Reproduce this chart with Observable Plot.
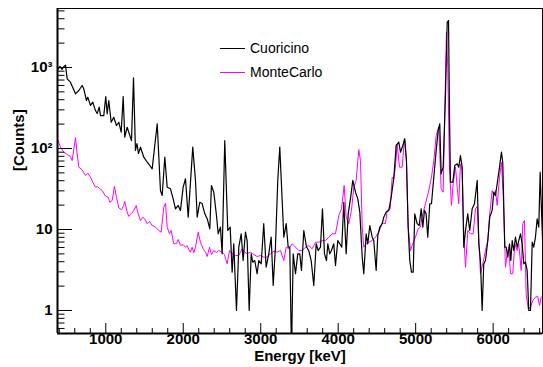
<!DOCTYPE html>
<html><head><meta charset="utf-8">
<script src="https://cdn.jsdelivr.net/npm/d3@7"></script>
<script src="https://cdn.jsdelivr.net/npm/@observablehq/plot@0.6"></script>
<style>
html,body{margin:0;padding:0;background:#fff;}
#wrap{position:relative;width:543px;height:367px;font-family:"Liberation Sans",Arial,Helvetica,sans-serif;}
#legend{position:absolute;left:220px;top:0;font-size:14px;color:#000;}
.row{position:absolute;left:0;white-space:nowrap;display:flex;align-items:center;height:16px;}
.sw{display:inline-block;width:25px;height:0;border-top:1.3px solid;margin-right:5px;}
</style></head><body><div id="wrap"><div id="legend"></div></div>
<script>
// Cuoricino spectrum (energy keV, counts)
const cuoE=[383,409,435,461,480,502,544,609,652,695,716,751,768,803,832,867,889,915,932,974,1000,1018,1039,1070,1103,1138,1168,1199,1225,1245,1276,1310,1332,1358,1383,1403,1422,1448,1491,1535,1568,1599,1664,1706,1728,1762,1793,1835,1870,1900,1935,1964,1999,2029,2064,2123,2158,2180,2213,2244,2278,2309,2343,2364,2394,2429,2451,2480,2502,2536,2575,2606,2631,2652,2687,2717,2748,2773,2803,2825,2851,2877,2897,2923,2954,2975,3006,3039,3070,3104,3135,3161,3190,3220,3246,3277,3298,3329,3354,3375,3397,3419,3449,3478,3504,3526,3556,3591,3620,3651,3685,3716,3742,3771,3797,3823,3849,3866,3891,3913,3943,3965,3995,4020,4046,4072,4103,4129,4158,4188,4223,4253,4279,4310,4330,4361,4382,4408,4439,4459,4490,4511,4537,4568,4588,4619,4653,4684,4717,4748,4782,4804,4834,4859,4881,4903,4924,4946,4968,4988,5019,5045,5071,5092,5114,5135,5156,5182,5204,5234,5265,5290,5311,5329,5355,5385,5407,5424,5436,5449,5479,5505,5536,5556,5578,5600,5621,5643,5672,5698,5729,5759,5794,5815,5836,5858,5879,5901,5931,5956,5987,6008,6030,6052,6082,6107,6124,6150,6168,6189,6211,6228,6246,6266,6288,6310,6331,6353,6375,6395,6417,6439,6460,6482,6504,6524,6546,6568,6589,6607,6624,6641];
const cuoC=[945,1030,945,1030,1070,725,659,473,520,600,546,391,430,340,373,294,270,324,255,255,438,268,391,211,243,192,211,159,438,138,183,145,125,746,94.5,115,86.8,104,78.1,67.7,61.7,56.1,202,30.3,26.3,78.1,33.3,31.8,23.9,18.0,19.8,17.2,33.3,42.3,14.2,104,40.3,14.2,21.7,20.9,15.6,13.6,10.2,34.9,28.9,14.9,8.85,10.7,5.01,125,9.72,10.7,2.97,6.66,1.0,6.05,8.85,4.14,9.26,7.31,1.0,5.01,3.95,4.14,2.84,4.14,3.77,11.8,3.42,5.01,8.04,2.04,6.05,40.3,104,22.8,8.04,11.8,6.05,6.05,0.3,5.01,2.84,5.01,5.01,3.12,9.72,6.05,5.50,4.14,2.04,6.66,5.50,6.05,18.0,5.01,4.14,6.66,5.01,5.50,6.66,3.59,7.31,6.66,6.05,21.7,5.01,15.6,23.9,40.3,28.9,23.9,16.4,4.55,2.84,8.85,6.66,11.2,8.04,7.31,3.12,8.43,10.7,11.8,14.2,16.4,17.2,25.0,42.3,109,120,90,109,132,71,10.7,4.14,2.97,2.97,15.6,11.8,11.2,18.0,10.7,17.2,15.6,8.04,20.8,20.8,44.2,94.5,167,202,48.7,58.8,473,3625,3802,294,38.4,38.4,61.7,64.7,58.8,82,58.8,6.05,9.72,15.6,9.72,18.0,20.8,40.3,6.66,4.14,1.0,3.77,4.14,7.31,14.2,17.2,28.9,26.3,36.7,58.8,90,67.7,6.05,6.05,4.55,6.66,4.14,7.31,5.50,8.04,6.05,7.31,8.85,6.66,3.77,3.95,3.12,1.0,1.0,6.97,6.05,8.04,13.5,10.7,51,17.2,6.05];
// MonteCarlo simulation (energy keV, counts)
const mcE=[386,415,458,502,544,566,609,631,652,695,738,768,803,832,867,893,923,954,996,1031,1052,1083,1112,1138,1168,1203,1232,1245,1276,1297,1332,1362,1393,1418,1448,1478,1503,1535,1564,1599,1642,1684,1715,1749,1771,1793,1822,1844,1878,1909,1935,1964,1999,2029,2051,2071,2093,2115,2136,2158,2193,2222,2257,2287,2309,2339,2364,2394,2429,2459,2502,2532,2567,2597,2631,2674,2717,2761,2794,2825,2867,2910,2954,2997,3039,3083,3126,3169,3212,3255,3298,3329,3362,3406,3449,3492,3535,3578,3620,3664,3707,3750,3794,3837,3879,3922,3965,4008,4043,4077,4103,4137,4171,4201,4232,4266,4288,4310,4330,4361,4395,4439,4481,4524,4568,4610,4632,4671,4697,4717,4739,4761,4791,4826,4855,4881,4903,4933,4962,4997,5032,5061,5083,5126,5169,5204,5234,5265,5298,5329,5355,5376,5397,5414,5436,5462,5484,5514,5536,5556,5578,5600,5621,5643,5673,5707,5742,5772,5794,5815,5836,5866,5901,5931,5956,5987,6008,6030,6052,6082,6107,6129,6159,6181,6202,6224,6253,6280,6310,6331,6362,6383,6404,6426,6452,6482,6512,6546,6576,6598,6620,6641];
const mcC=[125,104,90,84.3,79.7,71,136,86,58.8,54.6,46.4,49.6,44.2,38.4,33.3,34,31.8,30.3,25.8,25,21.7,22.8,34,25,18.5,17.5,19.8,22.2,16.4,14.5,15.6,17.2,19.8,15.6,12.9,14.2,13.5,11.8,12.6,11.2,10.7,9.72,9.26,18.9,21.1,10.7,8.85,9.72,6.66,6.66,7.53,6.34,6.53,6.05,6.34,5.66,5.25,6.05,5.16,6.05,9.26,6.97,5.78,5.25,4.64,6.05,4.91,5.5,5.2,5.5,5.25,4.91,3.77,5.5,5.01,4.77,4.77,5.78,5.25,5.01,5.25,4.91,4.64,4.77,4.55,4.55,5.01,5.4,5.25,5.5,4.14,6.05,5.78,6.66,6.05,5.5,5.5,6.05,6.34,5.78,6.97,6.97,7.31,7.31,8.04,8.85,8.85,14.9,18,34.9,14.2,11.8,17.2,33.3,40.3,96.4,71,10.7,6.05,6.66,6.97,7.31,8.04,9.26,12,11.8,17.2,18,44.2,42.3,58.8,114,58.8,58.8,132,71,10.7,5.5,6.66,8.04,10.2,10.7,14.2,20.8,30.3,44.2,71,145,183,31.8,28.9,294,2730,1009,58.8,19.8,36.7,58.8,33.3,20.8,64.7,53.5,8.85,3.42,9.72,8.85,8.85,18,19.2,7.31,2.84,3.77,5.5,7.31,15.6,30.3,26.3,30.3,19.8,44.2,67.7,27.6,3.42,5.01,6.05,2.84,2.84,6.66,5.5,6.66,3.12,11.8,12.9,1.61,1.05,1.1,1.33,1.46,1.49,1.15,1.46,1.46];

const seriesNames=["Cuoricino","MonteCarlo"];
const seriesColors=["#000000","#ff00ff"];
const xDomain=[377,6637];
const yDomain=[0.52,5350];
const xMajor=[1000,2000,3000,4000,5000,6000];
const xMinor=[400,600,800,1200,1400,1600,1800,2200,2400,2600,2800,3200,3400,3600,3800,4200,4400,4600,4800,5200,5400,5600,5800,6200,6400,6600];
const yMajor=[1,10,100,1000];
const yMajorLabels=["1","10","10²","10³"];
const yMinor=[0.6,0.7,0.8,0.9,2,3,4,5,6,7,8,9,20,30,40,50,60,70,80,90,200,300,400,500,600,700,800,900,2000,3000,4000,5000];
const xTitle="Energy [keV]";
const yTitle="[Counts]";

const cuo=cuoE.map((e,i)=>({e,c:cuoC[i]}));
const mc=mcE.map((e,i)=>({e,c:mcC[i]}));

const W=543,H=367,ML=57,MR=1,MT=8,MB=34;
const iw=W-ML-MR, ih=H-MT-MB;
const font='"Liberation Sans",Arial,Helvetica,sans-serif';

const chart=Plot.plot({
  width:W,height:H,marginLeft:ML,marginRight:MR,marginTop:MT,marginBottom:MB,
  x:{domain:xDomain,axis:null},
  y:{type:"log",domain:yDomain,axis:null},
  style:{fontFamily:font,background:"#fff",color:"#000",overflow:"visible"},
  marks:[
    Plot.line(mc,{x:"e",y:"c",stroke:seriesColors[1],strokeWidth:1,clip:true}),
    Plot.line(cuo,{x:"e",y:"c",stroke:seriesColors[0],strokeWidth:1.2,clip:true}),
    Plot.frame({stroke:"#000",strokeWidth:1}),
    Plot.ruleX([xDomain[0]],{stroke:"#000",strokeWidth:2}),
    Plot.ruleY([yDomain[0]],{stroke:"#000",strokeWidth:2}),
    Plot.tickX(xMajor,{x:d=>d,insetTop:ih-10,stroke:"#000"}),
    Plot.tickX(xMinor,{x:d=>d,insetTop:ih-5,stroke:"#000"}),
    Plot.tickY(yMajor,{y:d=>d,insetRight:iw-15,stroke:"#000"}),
    Plot.tickY(yMinor,{y:d=>d,insetRight:iw-7.5,stroke:"#000"}),
    Plot.text(xMajor,{x:d=>d,frameAnchor:"bottom",dy:10,text:d=>String(d),fontSize:15,fontWeight:"bold",fill:"#000"}),
    Plot.text(yMajor,{y:d=>d,frameAnchor:"left",dx:-5,textAnchor:"end",text:(d,i)=>yMajorLabels[i],fontSize:15,fontWeight:"bold",fill:"#000"}),
    Plot.text([xTitle],{frameAnchor:"bottom",dy:27,fontSize:15,fontWeight:"bold",fill:"#000"}),
    Plot.text([yTitle],{frameAnchor:"left",dx:-38,rotate:-90,fontSize:15,fontWeight:"bold",fill:"#000"})
  ]
});
const wrap=document.getElementById("wrap");
wrap.insertBefore(chart,wrap.firstChild);

const legend=document.getElementById("legend");
const rowTops=[40,64];
seriesNames.forEach((n,i)=>{
  const r=document.createElement("div");
  r.className="row"; r.style.top=rowTops[i]+"px";
  const s=document.createElement("span"); s.className="sw"; s.style.borderTopColor=seriesColors[i];
  r.appendChild(s); r.appendChild(document.createTextNode(n));
  legend.appendChild(r);
});
</script></body></html>
